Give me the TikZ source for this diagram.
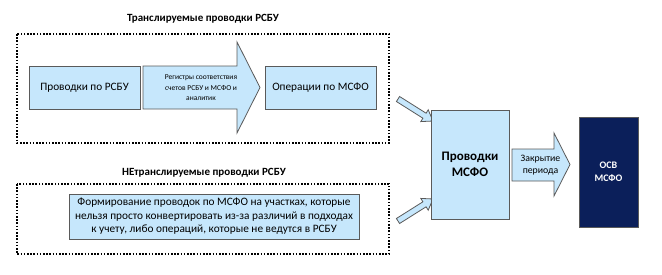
\documentclass[tikz,border=0pt]{standalone}
\usepackage{fontspec}
\setmainfont{Carlito}
\definecolor{lblue}{HTML}{C6E7FC}
\definecolor{navy}{HTML}{0B1F5A}
\definecolor{edge}{HTML}{5A5A5A}
\begin{document}
\begin{tikzpicture}[x=1pt,y=-1pt,
  frame/.style={draw=black,line width=1.2pt,dash pattern=on 1.6pt off 1.6pt},
  bluebox/.style={draw=edge,fill=lblue,line width=0.8pt},
  lbl/.style={inner sep=0pt,align=center,text=black},
  title/.style={inner sep=0pt,font=\bfseries\fontsize{11}{13}\selectfont}]
\useasboundingbox (0,0) rectangle (662,274);
% frames
\draw[frame] (17,34) rectangle (389,143);
\draw[frame] (17,184) rectangle (389,254);
\node[title] (t1) at (203,19) {Транслируемые проводки РСБУ};
\node[title] (t2) at (204,173) {НЕтранслируемые проводки РСБУ};
% top row
\node[bluebox,minimum width=111pt,minimum height=43pt,inner sep=0pt,font=\fontsize{11.3}{13}\selectfont] (rsbu) at (84.5,87.5) {Проводки по РСБУ};
\draw[bluebox] (143,66) -- (237,66) -- (237,42) -- (260,87.5) -- (237,133) -- (237,109) -- (143,109) -- cycle;
\node[lbl,font=\fontsize{7.5}{10.5}\selectfont] (reg) at (201,88) {Регистры соответствия\\счетов РСБУ и МСФО и\\аналитик};
\node[bluebox,minimum width=111pt,minimum height=43pt,inner sep=0pt,font=\fontsize{11.3}{13}\selectfont] (ifrs) at (320.5,87.5) {Операции по МСФО};
% bottom box
\node[bluebox,minimum width=290pt,minimum height=45pt,inner sep=0pt,align=center,font=\fontsize{11.3}{13.5}\selectfont] (form) at (214,216.5) {Формирование проводок по МСФО на участках, которые\\нельзя просто конвертировать из-за различий в подходах\\к учету, либо операций, которые не ведутся в РСБУ};
% small arrows
\draw[bluebox] (396.4,101.5) -- (422.9,118.2) -- (420.8,121.6) -- (433,121) -- (428.2,109.8) -- (426.1,113.2) -- (399.6,96.5) -- cycle;
\draw[bluebox] (396.4,218.5) -- (422.9,201.8) -- (420.8,198.4) -- (433,199) -- (428.2,210.2) -- (426.1,206.8) -- (399.6,223.5) -- cycle;
% central box
\node[bluebox,minimum width=78pt,minimum height=109pt,inner sep=0pt,align=center,font=\bfseries\fontsize{13}{16}\selectfont] (msfo) at (470,164.5) {Проводки\\МСФО};
% closing arrow
\draw[bluebox] (512,149) -- (554,149) -- (554,133) -- (570,164.5) -- (554,196) -- (554,181) -- (512,181) -- cycle;
\node[lbl,font=\fontsize{9.8}{12}\selectfont] (close) at (540.5,165) {Закрытие\\периода};
% OSV
\node[draw=edge,fill=navy,line width=0.8pt,minimum width=59pt,minimum height=110pt,inner sep=0pt,align=center,text=white,font=\bfseries\fontsize{10}{13}\selectfont] (osv) at (608.5,172) {ОСВ\\МСФО};
\end{tikzpicture}
\end{document}
